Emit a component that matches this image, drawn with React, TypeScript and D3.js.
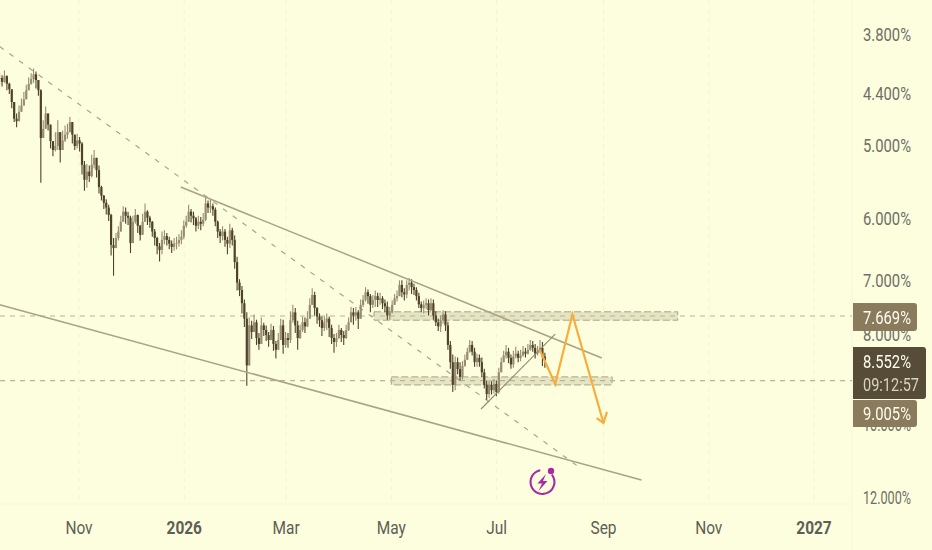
import React from "react";
import * as d3 from "d3";

const W = 932, H = 550;

const closes = [4.25,4.29,4.23,4.31,4.37,4.51,4.70,4.73,4.62,4.55,
4.48,4.38,4.31,4.26,4.21,4.27,4.38,4.93,4.82,4.64,
4.77,4.97,5.08,5.03,4.86,5.08,4.96,4.89,4.86,4.74,
4.89,5.03,4.96,5.00,5.27,5.47,5.36,5.42,5.27,5.18,
5.34,5.57,5.69,5.79,5.86,5.97,6.43,6.48,6.32,6.22,
6.07,5.92,5.98,6.01,6.40,6.07,5.97,6.13,6.27,6.07,
5.92,6.01,6.07,6.22,6.32,6.45,6.51,6.35,6.29,6.35,
6.41,6.46,6.41,6.40,6.35,6.30,6.13,6.07,5.92,5.98,
6.02,6.13,6.07,6.10,6.04,5.80,5.86,5.84,5.89,6.07,
6.22,6.29,6.22,6.35,6.41,6.20,6.35,6.71,7.06,7.19,
7.43,7.72,8.67,7.85,7.98,7.79,8.10,8.22,7.85,7.94,
8.04,8.14,7.94,8.22,8.34,8.14,7.85,8.24,8.10,8.14,
7.75,7.60,7.85,8.10,7.94,7.79,7.87,7.72,7.46,7.28,
7.52,7.68,7.75,7.90,7.79,7.72,7.90,8.10,8.18,8.10,
7.94,8.04,8.10,7.94,7.79,7.60,7.66,7.60,7.72,7.46,
7.37,7.23,7.30,7.46,7.37,7.30,7.37,7.34,7.43,7.49,
7.66,7.60,7.46,7.34,7.30,7.10,7.23,7.27,7.10,7.06,
7.14,7.19,7.30,7.45,7.52,7.46,7.43,7.56,7.43,7.66,
7.79,7.87,7.75,7.64,7.85,8.24,8.60,9.10,8.60,8.75,
8.92,8.68,8.55,8.38,8.24,8.38,8.60,8.51,8.60,8.82,
9.10,9.31,9.10,9.22,9.08,9.26,8.82,8.60,8.46,8.38,
8.51,8.65,8.48,8.42,8.51,8.46,8.38,8.42,8.34,8.24,
8.30,8.42,8.38,8.30,8.48,8.55];

const wickTops = [4.20,4.22,4.17,4.22,4.30,4.38,4.55,4.64,4.55,4.47,
4.40,4.32,4.24,4.20,4.15,4.18,4.30,4.37,4.72,4.56,
4.66,4.88,4.98,4.86,4.72,4.90,4.84,4.78,4.76,4.68,
4.76,4.90,4.88,4.92,4.98,5.22,5.26,5.28,5.14,5.08,
5.18,5.28,5.55,5.68,5.74,5.82,5.95,6.32,6.24,6.14,
5.98,5.84,5.86,5.92,5.98,5.98,5.88,5.96,6.12,5.95,
5.80,5.90,5.98,6.06,6.18,6.30,6.40,6.22,6.20,6.24,
6.30,6.36,6.32,6.30,6.26,6.20,6.05,5.98,5.82,5.88,
5.92,6.00,5.98,6.00,5.94,5.70,5.76,5.74,5.80,5.86,
6.05,6.18,6.14,6.18,6.30,6.10,6.16,6.28,6.62,7.00,
7.12,7.36,7.60,7.70,7.76,7.64,7.74,8.00,7.70,7.80,
7.85,7.98,7.82,7.86,8.16,8.00,7.72,7.74,7.98,8.00,
7.58,7.46,7.52,7.76,7.84,7.68,7.70,7.58,7.34,7.16,
7.22,7.50,7.62,7.68,7.68,7.62,7.68,7.84,8.02,8.00,
7.84,7.90,7.96,7.84,7.70,7.50,7.52,7.50,7.56,7.36,
7.28,7.14,7.18,7.26,7.28,7.20,7.24,7.24,7.30,7.36,
7.40,7.50,7.38,7.26,7.20,7.02,7.02,7.16,7.02,6.98,
7.00,7.08,7.14,7.24,7.40,7.38,7.34,7.36,7.34,7.36,
7.58,7.72,7.66,7.56,7.58,7.78,8.16,8.44,8.48,8.50,
8.60,8.58,8.44,8.30,8.14,8.16,8.30,8.42,8.44,8.50,
8.74,9.00,9.00,9.02,8.96,9.00,8.72,8.50,8.36,8.24,
8.30,8.44,8.36,8.28,8.36,8.34,8.26,8.30,8.22,8.14,
8.16,8.22,8.26,8.14,8.18,8.40];

const wickBottoms = [4.32,4.34,4.30,4.38,4.42,4.58,4.74,4.80,4.72,4.62,
4.55,4.46,4.38,4.32,4.30,4.36,4.44,5.51,4.92,4.76,
4.84,5.06,5.16,5.10,5.08,5.24,5.04,4.98,4.94,4.84,
5.00,5.08,5.06,5.10,5.40,5.62,5.58,5.50,5.44,5.32,
5.44,5.66,5.76,5.88,5.96,6.06,6.60,6.94,6.46,6.36,
6.22,6.04,6.10,6.12,6.56,6.20,6.10,6.24,6.36,6.20,
6.06,6.12,6.16,6.30,6.44,6.58,6.70,6.58,6.42,6.44,
6.50,6.56,6.52,6.50,6.46,6.42,6.34,6.16,6.06,6.08,
6.12,6.22,6.18,6.20,6.14,6.06,5.94,5.94,5.98,6.14,
6.32,6.40,6.36,6.46,6.58,6.48,6.44,6.82,7.20,7.30,
7.62,7.88,9.12,8.24,8.12,7.96,8.24,8.34,8.14,8.06,
8.16,8.28,8.14,8.36,8.52,8.30,8.14,8.42,8.30,8.30,
8.20,7.80,8.00,8.34,8.12,7.98,8.00,7.88,7.62,7.42,
7.66,7.82,7.88,8.06,7.96,7.94,8.08,8.22,8.40,8.28,
8.12,8.18,8.24,8.12,7.96,7.76,7.84,7.76,7.92,7.72,
7.50,7.40,7.44,7.60,7.52,7.50,7.50,7.46,7.54,7.60,
7.74,7.74,7.62,7.46,7.40,7.30,7.32,7.38,7.34,7.20,
7.26,7.28,7.38,7.52,7.60,7.62,7.54,7.66,7.58,7.74,
7.86,7.96,7.98,7.82,7.96,8.34,8.74,9.26,9.22,8.86,
9.00,8.98,8.70,8.50,8.40,8.46,8.70,8.70,8.70,8.92,
9.18,9.44,9.40,9.32,9.30,9.36,9.30,8.76,8.60,8.52,
8.62,8.74,8.72,8.52,8.60,8.58,8.48,8.50,8.44,8.36,
8.38,8.52,8.46,8.40,8.68,8.72];

const firstBarDate = "2025-09-16";
const lastBarDate = "2026-07-29";

const priceTicks = [3.8, 4.4, 5, 6, 7, 8, 10, 12];
const timeTicks: [string, string, boolean][] = [
  ["2025-11-01", "Nov", false], ["2026-01-01", "2026", true], ["2026-03-01", "Mar", false],
  ["2026-05-01", "May", false], ["2026-07-01", "Jul", false], ["2026-09-01", "Sep", false],
  ["2026-11-01", "Nov", false], ["2027-01-01", "2027", true],
];

type P = [string, number];
const upperChannel: P[] = [["2025-12-30", 5.57], ["2026-08-31", 8.51]];
const lowerChannel: P[] = [["2025-09-16", 7.46], ["2026-09-23", 11.52]];
const dashedDiagonal: P[] = [["2025-09-16", 3.93], ["2026-08-17", 11.13]];
const risingSupport: P[] = [["2026-06-22", 9.66], ["2026-08-04", 8.02]];
const projection: P[] = [["2026-07-26", 8.34], ["2026-08-04", 9.08], ["2026-08-14", 7.64], ["2026-09-01", 10.0]];
const arrowHead: P[] = [["2026-08-28", 9.88], ["2026-09-01", 10.0], ["2026-09-03", 9.73]];
const resistanceZone = { from: "2026-04-21", to: "2026-10-14", top: 7.59, bottom: 7.75 };
const supportZone = { from: "2026-05-01", to: "2026-09-06", top: 8.92, bottom: 9.10 };
const priceLines = [7.669, 9.005];
const lastPrice = 8.552;
const countdown = "09:12:57";

const date = (s: string) => new Date(s + "T00:00:00Z");
const x = d3.scaleUtc().domain([date("2025-11-01"), date("2027-01-01")]).range([79, 814]);
const y = d3.scaleLog().domain([3.8, 12]).range([33, 33 + 403 * Math.log(12 / 3.8)]);
const barX = d3.scaleLinear().domain([0, closes.length - 1]).range([x(date(firstBarDate)), x(date(lastBarDate))]);
const line = d3.line<P>().x(p => x(date(p[0]))).y(p => y(p[1]));

const fmt = (v: number) => v.toFixed(3) + "%";
const AXIS_X = 852, AXIS_Y = 504;
const UP = "#978c73", DOWN = "#4f432c";
const font = "Roboto, sans-serif";
const ORANGE = "#f8ad3c";
const LABEL_SIZE = 17.5;

function Zone({ z }: { z: typeof supportZone }) {
  const a = x(date(z.from)), b = x(date(z.to)), t = y(z.top), h = y(z.bottom) - t;
  return <rect x={a} y={t} width={b - a} height={h} fill="#a3a072" fillOpacity={0.26} stroke="#a9a685" strokeWidth={1} strokeDasharray="7 3" />;
}

function PriceLabel({ v, top, h }: { v: number; top: number; h: number }) {
  return (
    <g>
      <path d={`M853 ${top}H914a3 3 0 0 1 3 3V${top + h - 3}a3 3 0 0 1 -3 3H853Z`} fill="#8b7b5d" />
      <text x={863} y={top + h / 2 + 6.5} fontSize={LABEL_SIZE} fill="#fffdf0" textLength={48} lengthAdjust="spacingAndGlyphs">{fmt(v)}</text>
    </g>
  );
}

export default function App() {
  const arc = d3.arc()({ innerRadius: 10.9, outerRadius: 13, startAngle: 0.9, endAngle: 6.1 }) as string;
  return (
    <svg width={W} height={H} style={{ position: "absolute", left: 0, top: 0 }} fontFamily={font}>
      <defs>
        <filter id="soft" x="0" y="0" width="100%" height="100%" filterUnits="userSpaceOnUse" primitiveUnits="userSpaceOnUse">
          <feGaussianBlur stdDeviation={0.45} />
        </filter>
      </defs>
      <rect width={W} height={H} fill="#fdfedd" />
      {timeTicks.map(([d]) => (
        <line key={d} x1={x(date(d))} x2={x(date(d))} y1={0} y2={AXIS_Y} stroke="#f2f4d2" strokeDasharray="5 4" />
      ))}
      <line x1={AXIS_X} x2={AXIS_X} y1={0} y2={H} stroke="#f4f5da" />
      <line x1={0} x2={AXIS_X} y1={AXIS_Y} y2={AXIS_Y} stroke="#f4f5da" />

      <g filter="url(#soft)">
        <Zone z={resistanceZone} />
        <Zone z={supportZone} />
        {priceLines.map(p => (
          <line key={p} x1={0} x2={AXIS_X} y1={y(p)} y2={y(p)} stroke="#b9b491" strokeWidth={1.2} strokeDasharray="5 5" />
        ))}
        <path d={line(dashedDiagonal)!} fill="none" stroke="#aaa58a" strokeWidth={1.2} strokeDasharray="5 7" />

        {closes.map((c, i) => {
          const o = i ? closes[i - 1] : c;
          const top = Math.min(wickTops[i], o, c), bottom = Math.max(wickBottoms[i], o, c);
          const col = c <= o ? UP : DOWN;
          const cx = barX(i);
          return (
            <g key={i} stroke={col} fill={col}>
              <line x1={cx} x2={cx} y1={y(top)} y2={y(bottom)} strokeWidth={1.1} />
              <rect x={cx - 1.1} width={2.2} y={y(Math.min(o, c))} height={Math.max(0.8, Math.abs(y(o) - y(c)))} stroke="none" />
            </g>
          );
        })}

        <path d={line(upperChannel)!} fill="none" stroke="#a8a389" strokeWidth={1.6} />
        <path d={line(lowerChannel)!} fill="none" stroke="#a8a389" strokeWidth={1.6} />
        <path d={line(risingSupport)!} fill="none" stroke="#8f8a72" strokeWidth={1.1} />
        <path d={line(projection)!} fill="none" stroke={ORANGE} strokeWidth={2.2} />
        <path d={line(arrowHead)!} fill="none" stroke={ORANGE} strokeWidth={2.2} />

        <g transform="translate(542.5,482)" fill="#a92ba2">
          <path d={arc} />
          <circle cx={8.5} cy={-11} r={3.2} />
          <path d="M3.5 -8 L-5 1.5 L-0.5 1.5 L-4 9 L5 -1 L0.5 -1 Z" />
        </g>
      </g>

      {priceTicks.map(t => (
        <text key={t} x={863} y={y(t) + 8} fontSize={LABEL_SIZE} fill="#6e6e68" textLength={48} lengthAdjust="spacingAndGlyphs">{fmt(t)}</text>
      ))}
      {timeTicks.map(([d, label, bold]) => (
        <text key={d} transform={`translate(${x(date(d))},534) scale(0.86,1)`} fontSize={18} textAnchor="middle" fontWeight={bold ? 700 : 400} fill="#5e5e58">{label}</text>
      ))}

      <PriceLabel v={priceLines[0]} top={303} h={28} />
      <PriceLabel v={priceLines[1]} top={400} h={27} />
      <path d="M853 347H923a3 3 0 0 1 3 3V396a3 3 0 0 1 -3 3H853Z" fill="#574c37" />
      <text x={863} y={368} fontSize={LABEL_SIZE} fill="#fffdf0" textLength={48} lengthAdjust="spacingAndGlyphs">{fmt(lastPrice)}</text>
      <text x={863} y={391} fontSize={LABEL_SIZE} fill="#d8d3bd" textLength={56} lengthAdjust="spacingAndGlyphs">{countdown}</text>
    </svg>
  );
}
